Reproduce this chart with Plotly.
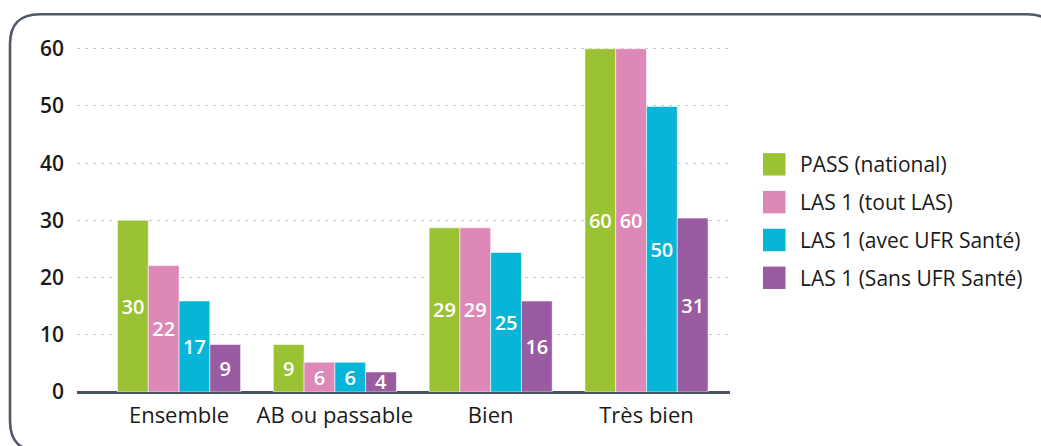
import plotly.graph_objects as go

# ---------------- data ----------------
categories = ["Ensemble", "AB ou passable", "Bien", "Très bien"]
series_names = ["PASS (national)", "LAS 1 (tout LAS)", "LAS 1 (avec UFR Santé)", "LAS 1 (Sans UFR Santé)"]
pass_values = [30.0, 8.3, 28.7, 60.0]
las_tout_values = [22.1, 5.2, 28.7, 60.0]
las_avec_values = [15.9, 5.2, 24.4, 49.9]
las_sans_values = [8.3, 3.5, 15.9, 30.4]
pass_labels = ["30", "9", "29", "60"]
las_tout_labels = ["22", "6", "29", "60"]
las_avec_labels = ["17", "6", "25", "50"]
las_sans_labels = ["9", "4", "16", "31"]
y_ticks = [0, 10, 20, 30, 40, 50, 60]

colors = ["#9bc232", "#dd88b7", "#07b5d8", "#995ca1"]
FONT = "Open Sans"
TEXT = "#1a1a1a"

W, H = 1041, 446
ML, MR, MT, MB = 77, 311, 43.3, 54
PW, PH = W - ML - MR, H - MT - MB


def px(x):
    return (x - ML) / PW


def py(y):
    return (H - MB - y) / PH


fig = go.Figure()
all_values = [pass_values, las_tout_values, las_avec_values, las_sans_values]
all_labels = [pass_labels, las_tout_labels, las_avec_labels, las_sans_labels]
for name, vals, labs, col in zip(series_names, all_values, all_labels, colors):
    fig.add_trace(go.Bar(
        x=categories, y=vals, name=name, text=labs,
        textposition="inside", insidetextanchor="middle", textangle=0,
        constraintext="none",
        textfont=dict(color="white", size=20, family=FONT, weight=600),
        marker=dict(color=col, line=dict(color="rgba(255,255,255,0.55)", width=1)),
        showlegend=False, hoverinfo="skip",
    ))

shapes = []
annotations = []

# legend drawn manually (22px squares)
row_y = [164.5, 202.3, 240.1, 277.9]
for name, col, ry in zip(series_names, colors, row_y):
    shapes.append(dict(type="rect", xref="paper", yref="paper",
                       x0=px(763), x1=px(785.5), y0=py(ry - 11.2), y1=py(ry + 11.2),
                       fillcolor=col, line=dict(width=0), layer="above"))
    annotations.append(dict(xref="paper", yref="paper", x=px(798), y=py(ry),
                            xanchor="left", yanchor="middle", showarrow=False,
                            text=name, font=dict(family=FONT, size=21, color=TEXT)))

# rounded frame
L, T, R, B, r = 10, 14.5, 1057, 451, 30
pts = [
    ("M", (L + r, T)), ("L", (R - r, T)), ("Q", (R, T), (R, T + r)),
    ("L", (R, B - r)), ("Q", (R, B), (R - r, B)),
    ("L", (L + r, B)), ("Q", (L, B), (L, B - r)),
    ("L", (L, T + r)), ("Q", (L, T), (L + r, T)),
]
path = ""
for cmd, *ps in pts:
    path += cmd + " ".join(f"{px(a):.5f},{py(b):.5f}" for a, b in ps) + " "
path += "Z"
shapes.append(dict(type="path", xref="paper", yref="paper", path=path,
                   line=dict(color="#505767", width=2.6), layer="below"))

fig.update_layout(
    width=W, height=H,
    margin=dict(l=ML, r=MR, t=MT, b=MB, pad=0),
    paper_bgcolor="white", plot_bgcolor="white",
    barmode="group", bargap=0.21, bargroupgap=0,
    font=dict(family=FONT, color=TEXT),
    shapes=shapes, annotations=annotations,
    showlegend=False,
    xaxis=dict(
        type="category", range=[-0.655, 3.536], showgrid=False, zeroline=False,
        showline=False, ticks="", ticklabelstandoff=8,
        tickfont=dict(family=FONT, size=22, color=TEXT),
    ),
    yaxis=dict(
        range=[0, 61], tickvals=y_ticks, showgrid=True,
        gridcolor="#c3c7cf", griddash="3px,5px", gridwidth=1,
        zeroline=True, zerolinecolor="#4a5160", zerolinewidth=3,
        showline=False, ticks="", ticklabelstandoff=12,
        tickfont=dict(family=FONT, size=21, color=TEXT, weight=600),
    ),
)

fig.write_html(
    "out.html",
    config={"displayModeBar": False},
    post_script="document.body.style.margin='0';document.body.style.overflow='hidden';",
)
